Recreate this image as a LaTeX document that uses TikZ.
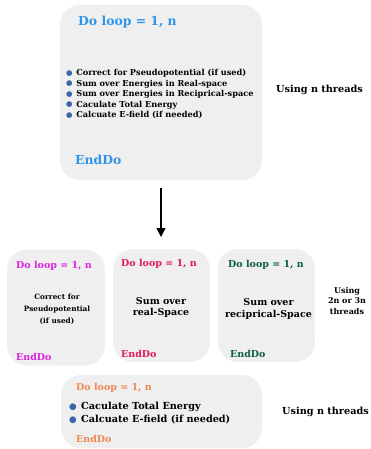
\documentclass[tikz,border=0pt]{standalone}
\usepackage{fontspec}
\setmainfont{DejaVu Serif}
\newfontfamily\dotfont{DejaVu Sans}
\usetikzlibrary{arrows.meta}

\definecolor{boxgray}{HTML}{EFEFEF}
\definecolor{loopblue}{HTML}{2E95EA}
\definecolor{loopmagenta}{HTML}{E020E0}
\definecolor{loopred}{HTML}{E0185A}
\definecolor{loopteal}{HTML}{0E5C4A}
\definecolor{looporange}{HTML}{F0884E}
\definecolor{dotblue}{HTML}{3A65AD}

\newcommand{\bul}{{\dotfont\color{dotblue}\raisebox{.1ex}{\scalebox{.9}{●}}}\hspace{.45em}}

\begin{document}
\begin{tikzpicture}[x=1pt,y=-1pt,
	box/.style={fill=boxgray, rounded corners=20pt, inner sep=0pt},
	txt/.style={font=\bfseries, inner sep=0pt},
	title/.style={txt, anchor=west, font=\bfseries\fontsize{9.5}{11}\selectfont}]
	
	\useasboundingbox (0,0) rectangle (371,449);
	
	% first loop
	\node[box, minimum width=202pt, minimum height=175pt] (topbox) at (161,92.5) {};
	\node[title, text=loopblue, font=\bfseries\fontsize{12.4}{14}\selectfont] (toptitle) at (78,22) {Do loop = 1, n};
	\node[txt, anchor=north west, align=left, font=\bfseries\fontsize{8.2}{10.5}\selectfont] (toplist) at (66,69.5)
		{\bul Correct for Pseudopotential (if used)\\
		 \bul Sum over Energies in Real-space\\
		 \bul Sum over Energies in Reciprical-space\\
		 \bul Caculate Total Energy\\
		 \bul Calcuate E-field (if needed)};
	\node[title, text=loopblue, font=\bfseries\fontsize{12.4}{14}\selectfont] (topend) at (75,160) {EndDo};
	\node[txt, font=\bfseries\fontsize{9.7}{11}\selectfont] (topthreads) at (319.5,90) {Using n threads};
	
	\coordinate (arrtop) at (161,188);
	\coordinate (arrtip) at (161,237);
	\draw[line width=1.3pt, -{Triangle[length=9pt,width=9pt]}] (arrtop) -- (arrtip);
	
	% split loops
	\node[box, minimum width=98pt, minimum height=116pt] (pseudobox) at (56,307.5) {};
	\node[box, minimum width=97pt, minimum height=113pt] (realbox) at (161.5,305.5) {};
	\node[box, minimum width=97pt, minimum height=113pt] (recbox) at (266.5,305.5) {};
	
	\node[title, text=loopmagenta] (pseudotitle) at (16,266) {Do loop = 1, n};
	\node[title, text=loopred] (realtitle) at (121,264) {Do loop = 1, n};
	\node[title, text=loopteal] (rectitle) at (228,265) {Do loop = 1, n};
	
	\node[txt, align=center, font=\bfseries\fontsize{7.3}{12}\selectfont] (pseudotxt) at (57,309)
		{Correct for\\Pseudopotential\\(if used)};
	\node[txt, align=center, font=\bfseries\fontsize{9.5}{11.5}\selectfont] (realtxt) at (161,307.5)
		{Sum over\\real-Space};
	\node[txt, align=center, font=\bfseries\fontsize{9.5}{11.5}\selectfont] (rectxt) at (268.5,309)
		{Sum over\\reciprical-Space};
	
	\node[title, text=loopmagenta] (pseudoend) at (16,357) {EndDo};
	\node[title, text=loopred] (realend) at (121,354) {EndDo};
	\node[title, text=loopteal] (recend) at (230,354) {EndDo};
	
	\node[txt, align=center, font=\bfseries\fontsize{8}{10.5}\selectfont] (midthreads) at (347,301)
		{Using\\2n or 3n\\threads};
	
	% last loop
	\node[box, minimum width=201pt, minimum height=73pt] (lastbox) at (161.5,411.5) {};
	\node[title, text=looporange] (lasttitle) at (76,388) {Do loop = 1, n};
	\node[txt, anchor=west, align=left, font=\bfseries\fontsize{9.7}{13}\selectfont] (lastlist) at (69,413.5)
		{\bul Caculate Total Energy\\
		 \bul Calcuate E-field (if needed)};
	\node[title, text=looporange] (lastend) at (76,439) {EndDo};
	\node[txt, font=\bfseries\fontsize{9.7}{11}\selectfont] (lastthreads) at (325.5,412) {Using n threads};
	
\end{tikzpicture}
\end{document}
